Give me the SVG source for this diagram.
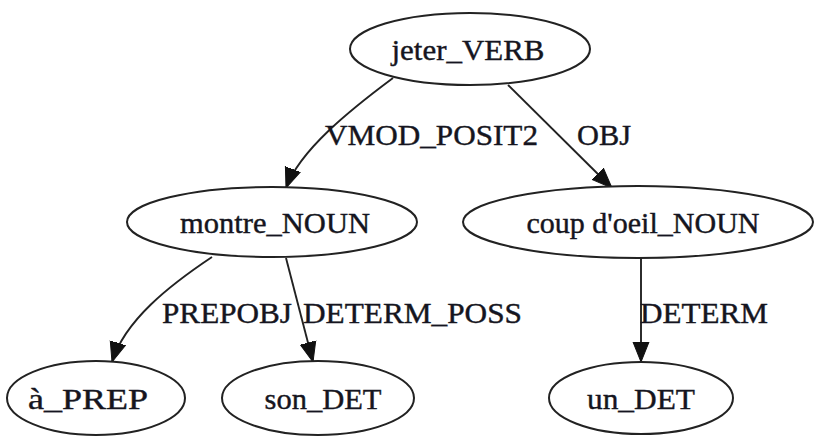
<svg xmlns="http://www.w3.org/2000/svg" width="817" height="438" viewBox="0 0 817 438">
<style>
.node ellipse{fill:#fff;stroke:#222;stroke-width:2}
.lbl{font-family:"Liberation Serif","Times New Roman",serif;font-size:30px;fill:#151520;stroke:#151520;stroke-width:0.4}
.nt{text-anchor:middle}
.edges path{fill:none;stroke:#222;stroke-width:1.9}
</style>
<defs>
<marker id="ah" markerUnits="userSpaceOnUse" markerWidth="22" markerHeight="18" viewBox="0 -9 22 18" refX="20" refY="0" orient="auto">
<path d="M0,-8 L20,0 L0,8 z" fill="#111" stroke="#111" stroke-width="1"/>
</marker>
</defs>
<rect width="817" height="438" fill="#fff"/>
<g class="edges">
<path d="M393,78 C350,110 300,150 286,188" marker-end="url(#ah)"/>
<path d="M508,85 L612,188" marker-end="url(#ah)"/>
<path d="M212,257 C170,285 125,320 112,362" marker-end="url(#ah)"/>
<path d="M286,258 L313,362" marker-end="url(#ah)"/>
<path d="M641,258 L641,362" marker-end="url(#ah)"/>
<text class="lbl" x="325" y="145" textLength="213" lengthAdjust="spacingAndGlyphs">VMOD_POSIT2</text>
<text class="lbl" x="577" y="145" textLength="54" lengthAdjust="spacingAndGlyphs">OBJ</text>
<text class="lbl" x="162" y="323" textLength="130" lengthAdjust="spacingAndGlyphs">PREPOBJ</text>
<text class="lbl" x="303" y="323" textLength="219" lengthAdjust="spacingAndGlyphs">DETERM_POSS</text>
<text class="lbl" x="640" y="323" textLength="128" lengthAdjust="spacingAndGlyphs">DETERM</text>
</g>
<g id="jeter_VERB" class="node">
<ellipse cx="470" cy="49" rx="120" ry="36"/>
<text class="lbl nt" x="468" y="60" textLength="153" lengthAdjust="spacingAndGlyphs">jeter_VERB</text>
</g>
<g id="montre_NOUN" class="node">
<ellipse cx="272" cy="222" rx="145" ry="35"/>
<text class="lbl nt" x="275" y="233" textLength="190" lengthAdjust="spacingAndGlyphs">montre_NOUN</text>
</g>
<g id="coup_doeil_NOUN" class="node">
<ellipse cx="638" cy="222" rx="175" ry="36"/>
<text class="lbl nt" x="643" y="233" textLength="233" lengthAdjust="spacingAndGlyphs">coup d'oeil_NOUN</text>
</g>
<g id="a_PREP" class="node">
<ellipse cx="96" cy="398" rx="89" ry="37"/>
<text class="lbl nt" x="88" y="409" textLength="120" lengthAdjust="spacingAndGlyphs">à_PREP</text>
</g>
<g id="son_DET" class="node">
<ellipse cx="318" cy="398" rx="96" ry="37"/>
<text class="lbl nt" x="323" y="409" textLength="117" lengthAdjust="spacingAndGlyphs">son_DET</text>
</g>
<g id="un_DET" class="node">
<ellipse cx="641" cy="398" rx="92" ry="36"/>
<text class="lbl nt" x="641" y="409" textLength="108" lengthAdjust="spacingAndGlyphs">un_DET</text>
</g>
</svg>
